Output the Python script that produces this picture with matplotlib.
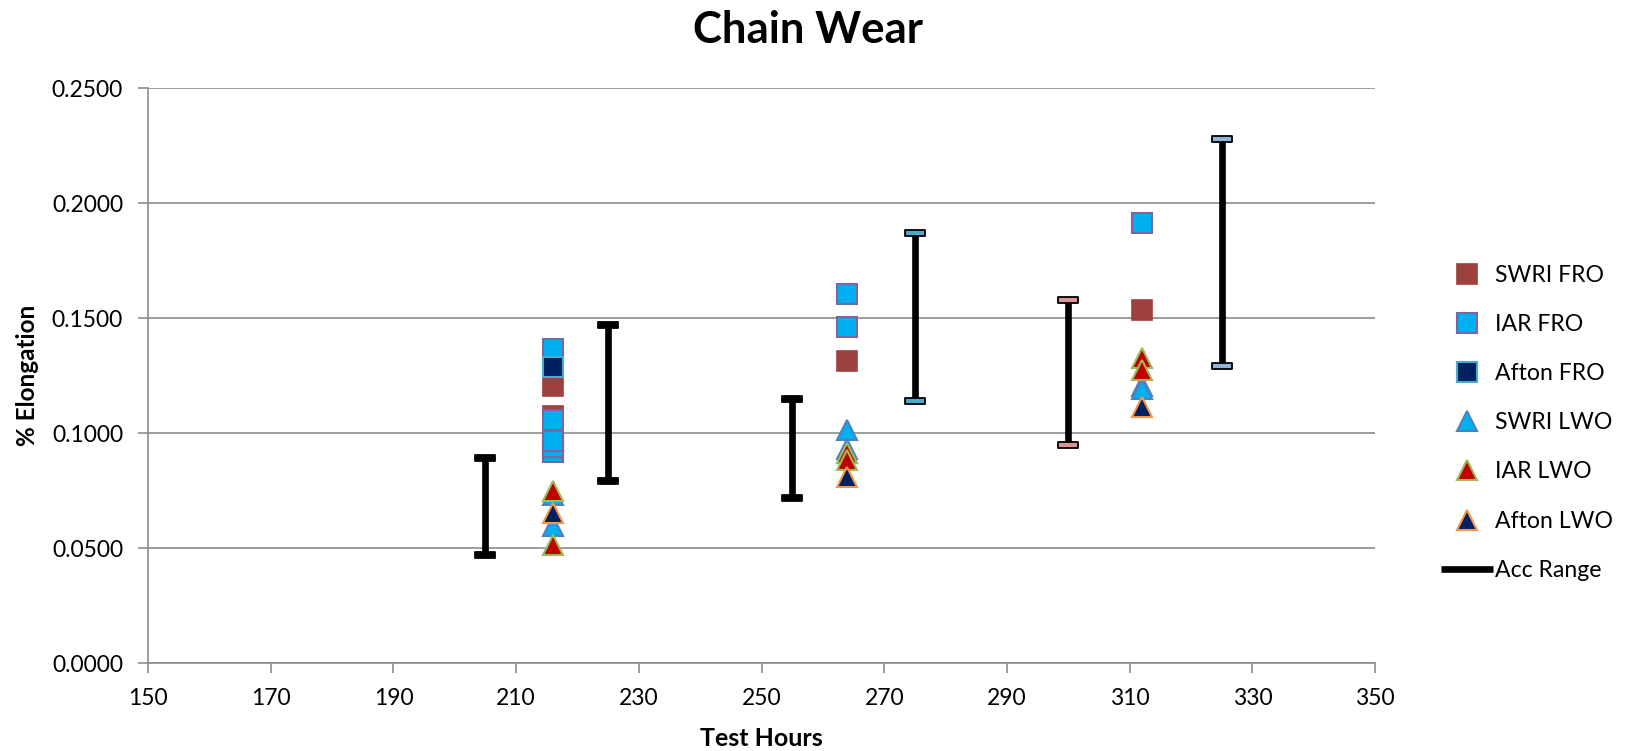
import numpy as np
import matplotlib.pyplot as plt
from matplotlib.path import Path

plt.rcParams["font.family"] = ["Lato", "DejaVu Sans"]

# Data
swri_fro_x = [216, 216, 264, 312]
swri_fro_y = [0.1207, 0.1075, 0.1314, 0.1537]

iar_fro_x = [216, 216, 216, 216, 216, 264, 264, 312]
iar_fro_y = [0.0918, 0.0942, 0.0965, 0.1059, 0.1366, 0.1606, 0.1462, 0.1912]

afton_fro_x = [216]
afton_fro_y = [0.1288]

swri_lwo_x = [216, 216, 264, 264, 312, 312]
swri_lwo_y = [0.0730, 0.0597, 0.1015, 0.0930, 0.1205, 0.1192]

iar_lwo_x = [216, 216, 264, 264, 312, 312]
iar_lwo_y = [0.0747, 0.0515, 0.0913, 0.0883, 0.1327, 0.1275]

afton_lwo_x = [216, 264, 312]
afton_lwo_y = [0.0653, 0.0811, 0.1115]

# Acceptance ranges
acc_x = [205, 225, 255, 275, 300, 325]
acc_low = [0.047, 0.079, 0.072, 0.114, 0.095, 0.129]
acc_high = [0.089, 0.147, 0.115, 0.187, 0.158, 0.228]
cap_colors = ["black", "black", "black", "#4BACC6", "#D99694", "#95B3D7"]

fig = plt.figure(figsize=(16.25, 7.51), dpi=100)
ax = fig.add_axes([0.0911, 0.1168, 0.7551, 0.766])

ms = 14
ax.plot(swri_fro_x, swri_fro_y, "s", ms=ms, mfc="#9E413E", mec="#9E413E", mew=1.2, label="SWRI FRO")
ax.plot(iar_fro_x, iar_fro_y, "s", ms=ms, mfc="#00B0F0", mec="#8064A2", mew=1.5, label="IAR FRO")
ax.plot(afton_fro_x, afton_fro_y, "s", ms=ms, mfc="#002060", mec="#4BACC6", mew=1.5, label="Afton FRO")
ax.plot(swri_lwo_x, swri_lwo_y, "^", ms=ms, mfc="#00B0F0", mec="#4F81BD", mew=1.5, label="SWRI LWO")
ax.plot(iar_lwo_x, iar_lwo_y, "^", ms=ms, mfc="#C00000", mec="#9BBB59", mew=1.5, label="IAR LWO")
ax.plot(afton_lwo_x, afton_lwo_y, "^", ms=ms, mfc="#002060", mec="#F79646", mew=1.5, label="Afton LWO")

# range bars as one broken line
bx, by = [], []
for x, lo, hi in zip(acc_x, acc_low, acc_high):
    bx += [x, x, np.nan]
    by += [lo, hi, np.nan]
ax.plot(bx, by, color="black", lw=4.8, solid_capstyle="butt", label="Acc Range")

cap = Path([(-1, -0.28), (1, -0.28), (1, 0.28), (-1, 0.28), (-1, -0.28)],
           [Path.MOVETO, Path.LINETO, Path.LINETO, Path.LINETO, Path.CLOSEPOLY])
for x, lo, hi, c in zip(acc_x, acc_low, acc_high, cap_colors):
    ax.plot([x, x], [lo, hi], linestyle="none", marker=cap, ms=15,
            mfc=c, mec="black", mew=1.3)

ax.set_xlim(150, 350)
ax.set_ylim(0, 0.25)
ax.set_xticks(np.arange(150, 351, 20))
ax.set_yticks(np.arange(0, 0.2501, 0.05))
ax.set_yticklabels([f"{v:.4f}" for v in np.arange(0, 0.2501, 0.05)])
ax.yaxis.grid(True, color="#8C8C8C", lw=1.2)
ax.set_axisbelow(True)
for s in ["top", "right"]:
    ax.spines[s].set_visible(False)
for s in ["left", "bottom"]:
    ax.spines[s].set_color("#8C8C8C")
    ax.spines[s].set_linewidth(1.2)
ax.tick_params(axis="both", colors="#8C8C8C", labelcolor="black", labelsize=16.5,
               length=7, width=1.2)
ax.tick_params(axis="x", pad=11)
ax.tick_params(axis="y", pad=11)

ax.set_xlabel("Test Hours", fontsize=18, fontweight="bold", labelpad=13)
ax.set_ylabel("% Elongation", fontsize=17.5, fontweight="bold", labelpad=9)
fig.text(0.497, 0.96, "Chain Wear", ha="center", va="center", fontsize=31.5, fontweight="bold")

ax.legend(loc="center left", bbox_to_anchor=(1.046, 0.418), frameon=False,
          fontsize=16.6, labelspacing=1.22, handlelength=2.25, handletextpad=0.1,
          borderaxespad=0)

plt.savefig("out.png", dpi=100)
